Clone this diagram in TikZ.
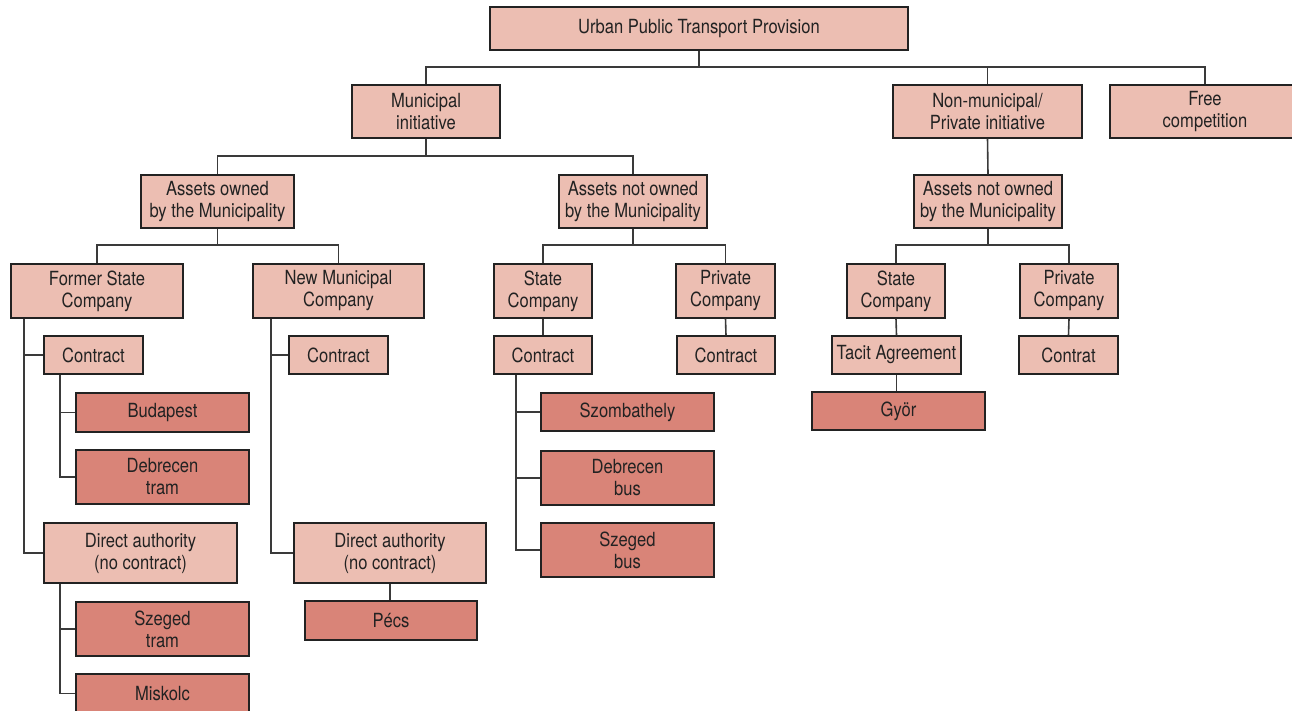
\documentclass[tikz,border=0pt]{standalone}
\usepackage{fontspec}
\setmainfont{TeX Gyre Heros}[FakeStretch=0.85]
\definecolor{lfill}{HTML}{ECBEB2}
\definecolor{dfill}{HTML}{D98478}
\definecolor{txt}{HTML}{222222}
\definecolor{ln}{HTML}{3A3A3A}
\begin{document}
\begin{tikzpicture}[x=1pt,y=-1pt,
  every node/.style={font=\fontsize{19.5}{22}\selectfont, text=txt, align=center, inner sep=0pt},
  lbox/.style={draw=txt, fill=lfill, line width=1.3pt, rectangle},
  dbox/.style={draw=txt, fill=dfill, line width=2.4pt, rectangle},
  conn/.style={draw=ln, line width=1.6pt}]
\useasboundingbox (0,0) rectangle (1292,711);
% level 0-1
\node[lbox, minimum width=418, minimum height=43] (root) at (699,28.5) {Urban Public Transport Provision};
\node[lbox, minimum width=148, minimum height=53] (mun) at (426,111.5) {Municipal\\initiative};
\node[lbox, minimum width=189, minimum height=53] (nonmun) at (987.5,111.5) {Non-municipal/\\Private initiative};
\node[lbox, minimum width=190, minimum height=53] (free) at (1205,111.5) {Free\\competition};
% level 2
\node[lbox, minimum width=153, minimum height=53] (aom) at (217.5,201.5) {Assets owned\\by the Municipality};
\node[lbox, minimum width=148, minimum height=53] (anom) at (633,201.5) {Assets not owned\\by the Municipality};
\node[lbox, minimum width=148, minimum height=53] (anomb) at (988,201.5) {Assets not owned\\by the Municipality};
% level 3
\node[lbox, minimum width=172, minimum height=54] (fsc) at (97,291) {Former State\\Company};
\node[lbox, minimum width=171, minimum height=54] (nmc) at (338.5,291) {New Municipal\\Company};
\node[lbox, minimum width=98, minimum height=54] (sca) at (543,291) {State\\Company};
\node[lbox, minimum width=99, minimum height=54] (pca) at (725.5,291) {Private\\Company};
\node[lbox, minimum width=98, minimum height=54] (scb) at (896,291) {State\\Company};
\node[lbox, minimum width=98, minimum height=54] (pcb) at (1069,291) {Private\\Company};
% level 4
\node[lbox, minimum width=99, minimum height=38] (cona) at (93.5,355) {Contract};
\node[lbox, minimum width=99, minimum height=38] (conb) at (338.5,355) {Contract};
\node[lbox, minimum width=98, minimum height=38] (conc) at (543,355) {Contract};
\node[lbox, minimum width=98, minimum height=38] (cond) at (726,355) {Contract};
\node[lbox, minimum width=129, minimum height=38] (tacit) at (896.5,355) {Tacit Agreement};
\node[lbox, minimum width=99, minimum height=38] (contrat) at (1068.5,355) {Contrat};
\node[lbox, minimum width=193, minimum height=60] (daa) at (140.5,553) {Direct authority\\(no contract)};
\node[lbox, minimum width=192, minimum height=60] (dab) at (390,553) {Direct authority\\(no contract)};
% cities
\node[dbox, minimum width=173, minimum height=39] (bud) at (162.5,412.5) {Budapest};
\node[dbox, minimum width=173, minimum height=54] (debt) at (162.5,477) {Debrecen\\tram};
\node[dbox, minimum width=173, minimum height=54] (szegt) at (162.5,629) {Szeged\\tram};
\node[dbox, minimum width=173, minimum height=39] (misk) at (162.5,693.5) {Miskolc};
\node[dbox, minimum width=172, minimum height=39] (pecs) at (391,620.5) {Pécs};
\node[dbox, minimum width=173, minimum height=38] (szomb) at (627.5,412) {Szombathely};
\node[dbox, minimum width=173, minimum height=54] (debb) at (627.5,478) {Debrecen\\bus};
\node[dbox, minimum width=173, minimum height=54] (szegb) at (627.5,550) {Szeged\\bus};
\node[dbox, minimum width=173, minimum height=38] (gyor) at (898.5,411) {Györ};
% bus coordinates
\coordinate (b0) at (0,67);
\coordinate (b1) at (0,156);
\coordinate (b2) at (0,245);
\coordinate (v1) at (24,0);
\coordinate (v2) at (60,0);
\coordinate (v3) at (271,0);
\coordinate (v4) at (516,0);
% connectors
\draw[conn] (root.south) -- (root.south |- b0);
\draw[conn] (mun.north) -- (mun.north |- b0) -- (free.north |- b0) -- (free.north);
\draw[conn] (nonmun.north) -- (nonmun.north |- b0);
\draw[conn] (mun.south) -- (mun.south |- b1);
\draw[conn] (aom.north) -- (aom.north |- b1) -- (anom.north |- b1) -- (anom.north);
\draw[conn] (nonmun.south) -- (anomb.north);
\draw[conn] (aom.south) -- (aom.south |- b2);
\draw[conn] (fsc.north) -- (fsc.north |- b2) -- (nmc.north |- b2) -- (nmc.north);
\draw[conn] (anom.south) -- (anom.south |- b2);
\draw[conn] (sca.north) -- (sca.north |- b2) -- (pca.north |- b2) -- (pca.north);
\draw[conn] (anomb.south) -- (anomb.south |- b2);
\draw[conn] (scb.north) -- (scb.north |- b2) -- (pcb.north |- b2) -- (pcb.north);
\draw[conn] (sca.south) -- (conc.north);
\draw[conn] (pca.south) -- (cond.north);
\draw[conn] (scb.south) -- (tacit.north);
\draw[conn] (pcb.south) -- (contrat.north);
\draw[conn] (tacit.south) -- (tacit.south |- gyor.north);
\draw[conn] (dab.south) -- (dab.south |- pecs.north);
% side branches
\draw[conn] (fsc.south -| v1) |- (cona.west);
\draw[conn] (fsc.south -| v1) |- (daa.west);
\draw[conn] (cona.south -| v2) |- (bud.west);
\draw[conn] (cona.south -| v2) |- (debt.west);
\draw[conn] (daa.south -| v2) |- (szegt.west);
\draw[conn] (daa.south -| v2) |- (misk.west);
\draw[conn] (nmc.south -| v3) |- (conb.west);
\draw[conn] (nmc.south -| v3) |- (dab.west);
\draw[conn] (conc.south -| v4) |- (szomb.west);
\draw[conn] (conc.south -| v4) |- (debb.west);
\draw[conn] (conc.south -| v4) |- (szegb.west);
\end{tikzpicture}
\end{document}
